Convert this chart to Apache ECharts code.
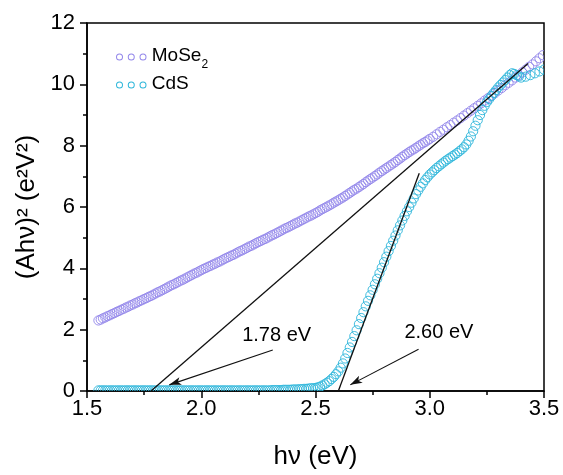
<!DOCTYPE html>
<html>
<head>
<meta charset="utf-8">
<script src="https://cdn.jsdelivr.net/npm/echarts@6/dist/echarts.min.js"></script>
<style>
  html, body { margin: 0; padding: 0; background: #fff; }
  #chart { width: 563px; height: 475px; }
</style>
</head>
<body>
<div id="chart"></div>
<script>
// Tauc plot: (A·hν)² against photon energy for MoSe2 and CdS.
const FONT = '"Liberation Sans", Arial, sans-serif';
const COLOR_MOSE2 = '#9286ea';
const COLOR_CDS = '#2cb6da';

const xRange = [1.5, 3.5];
const xStep = 0.5;
const yRange = [0, 12];
const yStep = 2;

// [hν (eV), (Ahν)² (e²V²)]
const mose2Points = [
  [1.55,2.30],[1.56,2.33],[1.57,2.37],[1.58,2.40],[1.59,2.44],[1.60,2.47],[1.61,2.51],[1.62,2.54],
  [1.63,2.58],[1.64,2.61],[1.65,2.65],[1.66,2.68],[1.67,2.72],[1.68,2.75],[1.69,2.79],[1.70,2.82],
  [1.71,2.86],[1.72,2.89],[1.73,2.93],[1.74,2.96],[1.75,3.00],[1.76,3.03],[1.77,3.07],[1.78,3.10],
  [1.79,3.14],[1.80,3.18],[1.81,3.22],[1.82,3.25],[1.83,3.29],[1.84,3.33],[1.85,3.37],[1.86,3.41],
  [1.87,3.45],[1.88,3.48],[1.89,3.52],[1.90,3.56],[1.91,3.60],[1.92,3.63],[1.93,3.67],[1.94,3.71],
  [1.95,3.75],[1.96,3.79],[1.97,3.83],[1.98,3.86],[1.99,3.90],[2.00,3.94],[2.01,3.98],[2.02,4.01],
  [2.03,4.05],[2.04,4.08],[2.05,4.12],[2.06,4.15],[2.07,4.19],[2.08,4.22],[2.09,4.26],[2.10,4.30],
  [2.11,4.34],[2.12,4.37],[2.13,4.41],[2.14,4.44],[2.15,4.48],[2.16,4.52],[2.17,4.56],[2.18,4.59],
  [2.19,4.63],[2.20,4.67],[2.21,4.71],[2.22,4.74],[2.23,4.78],[2.24,4.82],[2.25,4.86],[2.26,4.89],
  [2.27,4.93],[2.28,4.96],[2.29,5.00],[2.30,5.04],[2.31,5.08],[2.32,5.11],[2.33,5.15],[2.34,5.19],
  [2.35,5.23],[2.36,5.27],[2.37,5.31],[2.38,5.34],[2.39,5.38],[2.40,5.42],[2.41,5.46],[2.42,5.49],
  [2.43,5.53],[2.44,5.57],[2.45,5.61],[2.46,5.65],[2.47,5.69],[2.48,5.72],[2.49,5.76],[2.50,5.80],
  [2.51,5.84],[2.52,5.89],[2.53,5.93],[2.54,5.97],[2.55,6.01],[2.56,6.05],[2.57,6.09],[2.58,6.14],
  [2.59,6.18],[2.60,6.22],[2.61,6.27],[2.62,6.31],[2.63,6.36],[2.64,6.41],[2.65,6.46],[2.66,6.51],
  [2.67,6.56],[2.68,6.60],[2.69,6.65],[2.70,6.70],[2.71,6.75],[2.72,6.81],[2.73,6.86],[2.74,6.91],
  [2.75,6.96],[2.76,7.01],[2.77,7.06],[2.78,7.12],[2.79,7.17],[2.80,7.22],[2.81,7.27],[2.82,7.32],
  [2.83,7.37],[2.84,7.42],[2.85,7.47],[2.86,7.53],[2.87,7.58],[2.88,7.64],[2.89,7.69],[2.90,7.74],
  [2.91,7.79],[2.92,7.84],[2.93,7.88],[2.94,7.93],[2.95,7.98],[2.96,8.03],[2.97,8.08],[2.98,8.12],
  [2.99,8.17],[3.00,8.22],[3.015,8.29],[3.03,8.37],[3.045,8.45],[3.06,8.52],[3.075,8.60],[3.09,8.67],
  [3.105,8.75],[3.12,8.82],[3.135,8.90],[3.15,8.98],[3.165,9.06],[3.18,9.14],[3.195,9.22],[3.21,9.30],
  [3.225,9.38],[3.24,9.47],[3.255,9.55],[3.27,9.63],[3.285,9.71],[3.30,9.80],[3.315,9.88],[3.33,9.97],
  [3.345,10.05],[3.36,10.13],[3.375,10.22],[3.39,10.30],[3.405,10.39],[3.42,10.48],[3.435,10.57],[3.45,10.65],
  [3.465,10.75],[3.48,10.85],[3.495,10.95]
];

const cdsPoints = [
  [1.55,0.02],[1.56,0.02],[1.57,0.02],[1.58,0.02],[1.59,0.02],[1.60,0.02],[1.61,0.02],[1.62,0.02],
  [1.63,0.02],[1.64,0.02],[1.65,0.02],[1.66,0.02],[1.67,0.02],[1.68,0.02],[1.69,0.02],[1.70,0.02],
  [1.71,0.02],[1.72,0.02],[1.73,0.02],[1.74,0.02],[1.75,0.02],[1.76,0.02],[1.77,0.02],[1.78,0.02],
  [1.79,0.02],[1.80,0.02],[1.81,0.02],[1.82,0.02],[1.83,0.02],[1.84,0.02],[1.85,0.02],[1.86,0.02],
  [1.87,0.02],[1.88,0.02],[1.89,0.02],[1.90,0.02],[1.91,0.02],[1.92,0.02],[1.93,0.02],[1.94,0.02],
  [1.95,0.02],[1.96,0.02],[1.97,0.02],[1.98,0.02],[1.99,0.02],[2.00,0.02],[2.01,0.02],[2.02,0.02],
  [2.03,0.02],[2.04,0.02],[2.05,0.02],[2.06,0.02],[2.07,0.02],[2.08,0.02],[2.09,0.02],[2.10,0.02],
  [2.11,0.02],[2.12,0.02],[2.13,0.02],[2.14,0.02],[2.15,0.02],[2.16,0.02],[2.17,0.02],[2.18,0.02],
  [2.19,0.02],[2.20,0.02],[2.21,0.02],[2.22,0.02],[2.23,0.02],[2.24,0.02],[2.25,0.02],[2.26,0.02],
  [2.27,0.02],[2.28,0.02],[2.29,0.02],[2.30,0.02],[2.31,0.03],[2.32,0.03],[2.33,0.03],[2.34,0.03],
  [2.35,0.03],[2.36,0.04],[2.37,0.04],[2.38,0.04],[2.39,0.04],[2.40,0.05],[2.41,0.05],[2.42,0.05],
  [2.43,0.06],[2.44,0.06],[2.45,0.07],[2.46,0.07],[2.47,0.08],[2.48,0.09],[2.49,0.09],
  [2.50,0.10],[2.51,0.12],[2.52,0.14],[2.53,0.18],[2.54,0.22],[2.55,0.27],[2.56,0.32],[2.57,0.39],
  [2.58,0.46],[2.59,0.55],[2.60,0.64],[2.61,0.76],[2.62,0.90],[2.63,1.06],[2.64,1.24],[2.65,1.42],
  [2.66,1.60],[2.67,1.79],[2.68,1.98],[2.69,2.18],[2.70,2.38],[2.71,2.57],[2.72,2.76],[2.73,2.94],
  [2.74,3.12],[2.75,3.30],[2.76,3.48],[2.77,3.66],[2.78,3.84],[2.79,4.02],[2.80,4.20],[2.81,4.38],
  [2.82,4.56],[2.83,4.73],[2.84,4.90],[2.85,5.07],[2.86,5.24],[2.87,5.40],[2.88,5.56],[2.89,5.71],
  [2.90,5.86],[2.91,6.00],[2.92,6.14],[2.93,6.28],[2.94,6.42],[2.95,6.54],[2.96,6.66],[2.97,6.77],
  [2.98,6.88],[2.99,6.97],[3.00,7.06],[3.01,7.13],[3.02,7.20],[3.03,7.27],[3.04,7.33],[3.05,7.39],
  [3.06,7.45],[3.07,7.51],[3.08,7.56],[3.09,7.61],[3.10,7.66],[3.11,7.71],[3.12,7.76],[3.13,7.82],
  [3.14,7.88],[3.15,7.95],[3.16,8.04],[3.17,8.16],[3.18,8.30],[3.19,8.47],[3.20,8.65],[3.21,8.83],
  [3.22,9.00],[3.23,9.16],[3.24,9.30],[3.25,9.42],[3.26,9.52],[3.27,9.62],[3.28,9.72],[3.29,9.81],
  [3.30,9.90],[3.31,9.98],[3.32,10.06],[3.33,10.14],[3.34,10.22],[3.35,10.30],[3.36,10.36],[3.37,10.34],
  [3.38,10.30],[3.39,10.26],[3.40,10.22],[3.42,10.25],[3.44,10.30],[3.46,10.36],[3.48,10.42],[3.50,10.48]
];

// Band gaps from the linear extrapolations to zero absorption
const bandGaps = [1.78, 2.60];
// Upper end of each extrapolation line
const tangentEnds = [[3.43, 10.68], [2.954, 7.1]];
// Arrow start (near label) and tip (near intercept) for each band gap
const arrowCoords = [
  [[2.313, 1.34], [1.860, 0.20]],
  [[2.951, 1.36], [2.652, 0.20]]
];
// Label anchor for each band gap text
const labelCoords = [[2.33, 1.80], [3.04, 1.90]];

// three small rings used as legend marker
const RING = (cx) =>
  `M${cx - 3.5},3.5 A3.5,3.5 0 1 1 ${cx + 3.5},3.5 A3.5,3.5 0 1 1 ${cx - 3.5},3.5 Z ` +
  `M${cx - 2.5},3.5 A2.5,2.5 0 1 0 ${cx + 2.5},3.5 A2.5,2.5 0 1 0 ${cx - 2.5},3.5 Z `;
const legendIcon = 'path://' + RING(3.5) + RING(15.25) + RING(27);

const chart = echarts.init(document.getElementById('chart'), null, { renderer: 'canvas' });

// Open circles, clipped to the plot frame
const ringSeries = (name, points, color, z) => ({
  name,
  type: 'custom',
  data: points,
  encode: { x: 0, y: 1 },
  clip: true,
  z,
  itemStyle: { color },
  emphasis: { disabled: true },
  renderItem: (params, api) => {
    const p = api.coord([api.value(0), api.value(1)]);
    return {
      type: 'circle',
      shape: { cx: p[0], cy: p[1], r: 4.6 },
      style: { fill: 'none', stroke: color, lineWidth: 0.9 }
    };
  }
});

chart.setOption({
  animation: false,
  backgroundColor: '#fff',
  textStyle: { fontFamily: FONT, color: '#000' },
  grid: {
    left: 87, right: 19, top: 23, bottom: 84,
    show: true, borderColor: '#000', borderWidth: 1.5,
    backgroundColor: 'rgba(0,0,0,0)',
    containLabel: false,
    outerBoundsMode: 'none'
  },
  legend: {
    orient: 'vertical',
    left: 116, top: 46,
    padding: 0,
    itemGap: 3,
    itemWidth: 31, itemHeight: 7,
    icon: legendIcon,
    selectedMode: false,
    data: [
      { name: 'MoSe2', itemStyle: { color: COLOR_MOSE2, borderWidth: 0 } },
      { name: 'CdS', itemStyle: { color: COLOR_CDS, borderWidth: 0 } }
    ],
    formatter: (name) => name === 'MoSe2' ? '{b|MoSe}{sub|2}' : '{b|' + name + '}',
    textStyle: {
      fontFamily: FONT, color: '#000',
      rich: {
        b: { fontFamily: FONT, fontSize: 19, lineHeight: 22, verticalAlign: 'top', color: '#000' },
        sub: { fontFamily: FONT, fontSize: 12, lineHeight: 12, padding: [13, 0, 0, 0], verticalAlign: 'top', color: '#000' }
      }
    }
  },
  xAxis: {
    type: 'value',
    min: xRange[0], max: xRange[1], interval: xStep,
    name: 'hν (eV)',
    nameLocation: 'middle',
    nameGap: 53,
    nameTextStyle: { fontFamily: FONT, fontSize: 26, color: '#000' },
    axisLine: { show: true, onZero: false, lineStyle: { color: '#000', width: 1.5 } },
    axisTick: { show: true, inside: false, length: 7, lineStyle: { color: '#000', width: 1.5 } },
    minorTick: { show: true, splitNumber: 2, length: 4, lineStyle: { color: '#000', width: 1.5 } },
    splitLine: { show: false },
    minorSplitLine: { show: false },
    axisLabel: {
      fontFamily: FONT, fontSize: 22, color: '#000', margin: 7,
      formatter: (v) => v.toFixed(1)
    }
  },
  yAxis: {
    type: 'value',
    min: yRange[0], max: yRange[1], interval: yStep,
    name: '(Ahν)² (e²V²)',
    nameLocation: 'middle',
    nameGap: 46,
    nameTextStyle: { fontFamily: FONT, fontSize: 26, color: '#000' },
    axisLine: { show: true, onZero: false, lineStyle: { color: '#000', width: 1.5 } },
    axisTick: { show: true, inside: false, length: 7, lineStyle: { color: '#000', width: 1.5 } },
    minorTick: { show: true, splitNumber: 2, length: 4, lineStyle: { color: '#000', width: 1.5 } },
    splitLine: { show: false },
    minorSplitLine: { show: false },
    axisLabel: {
      fontFamily: FONT, fontSize: 22, color: '#000', margin: 12,
      formatter: (v) => String(v)
    }
  },
  series: [
    ringSeries('MoSe2', mose2Points, COLOR_MOSE2, 2),
    ringSeries('CdS', cdsPoints, COLOR_CDS, 3),
    ...bandGaps.map((eg, i) => ({
      name: 'fit' + i,
      type: 'line',
      data: [[eg, 0], tangentEnds[i]],
      symbol: 'none',
      lineStyle: { color: '#111', width: 1.3 },
      emphasis: { disabled: true },
      z: 4
    })),
    {
      name: 'arrows',
      type: 'lines',
      coordinateSystem: 'cartesian2d',
      data: arrowCoords.map((c) => ({ coords: c })),
      symbol: ['none', 'arrow'],
      symbolSize: [1, [6, 12]],
      lineStyle: { color: '#111', width: 1.1, opacity: 1 },
      itemStyle: { color: '#111' },
      emphasis: { disabled: true },
      z: 5
    },
    {
      name: 'gapLabels',
      type: 'scatter',
      data: bandGaps.map((eg, i) => ({ value: labelCoords[i], name: eg.toFixed(2) + ' eV' })),
      symbolSize: 1,
      itemStyle: { color: 'rgba(0,0,0,0)' },
      label: {
        show: true, position: 'inside',
        formatter: (p) => p.name,
        fontFamily: FONT, fontSize: 20, color: '#000',
        textBorderWidth: 0, opacity: 1
      },
      emphasis: { disabled: true },
      z: 6
    }
  ]
});
</script>
</body>
</html>
